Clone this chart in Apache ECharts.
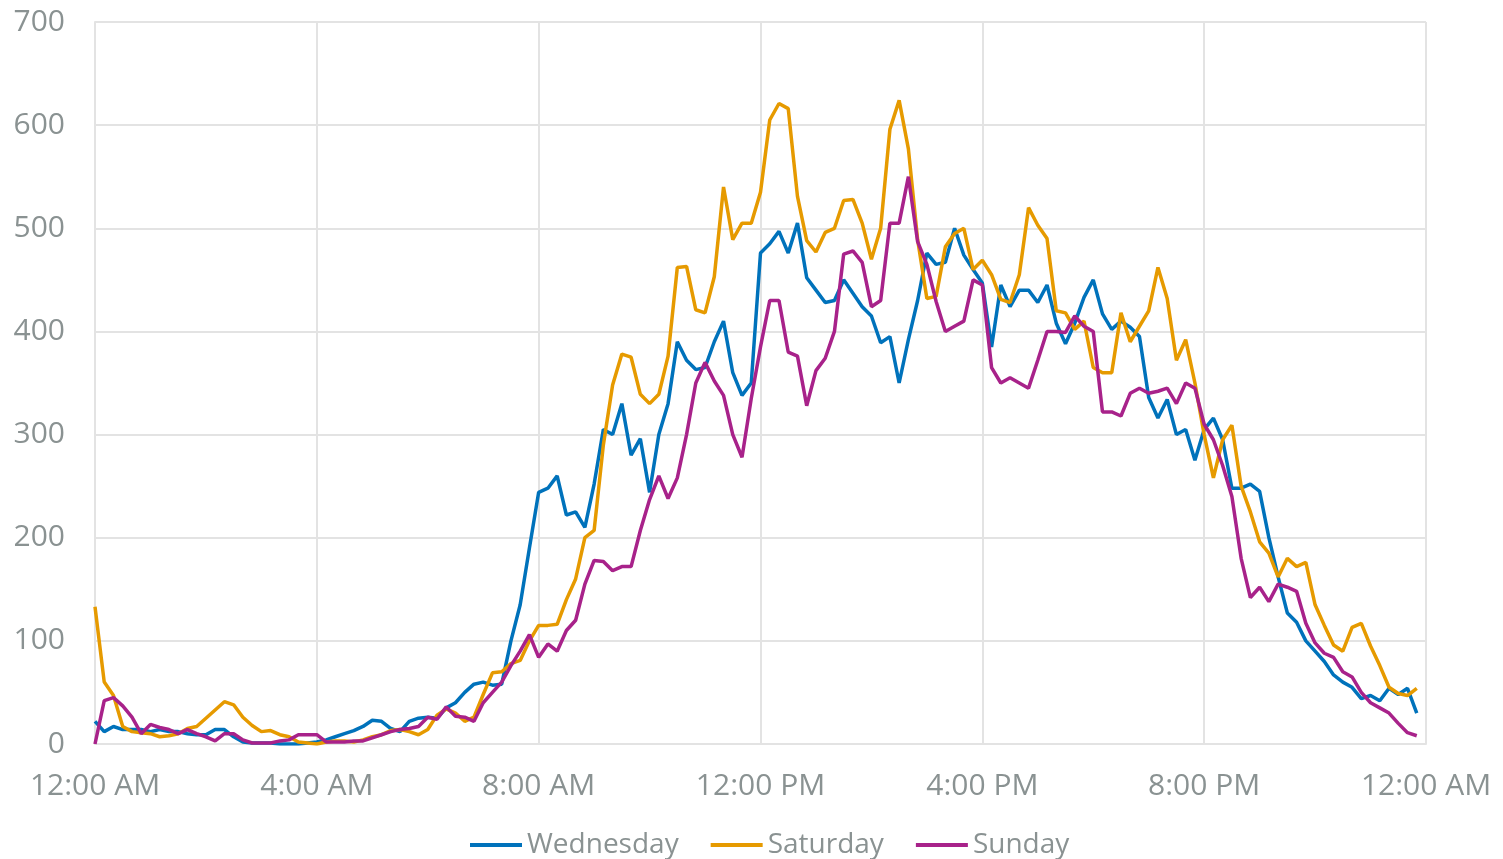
<!DOCTYPE html>
<html>
<head>
<meta charset="utf-8">
<script src="https://cdn.jsdelivr.net/npm/echarts@6/dist/echarts.min.js"></script>
<style>
html,body{margin:0;padding:0;background:#fff;}
#chart{width:1503px;height:859px;}
</style>
</head>
<body>
<div id="chart"></div>
<script>
// Sample step: 10 minutes, starting at 12:00 AM
const stepMinutes = 10;
const seriesNames = ['Wednesday', 'Saturday', 'Sunday'];
const xTickLabels = ['12:00 AM', '4:00 AM', '8:00 AM', '12:00 PM', '4:00 PM', '8:00 PM', '12:00 AM'];

const wednesday = [
  22, 12, 17, 14, 14, 14, 12, 14, 12, 12, 10, 9,
  9, 14, 14, 7, 2, 1, 1, 1, 0, 0, 0, 1,
  2, 4, 7, 10, 13, 17, 23, 22, 15, 12, 22, 25,
  26, 25, 35, 40, 50, 58, 60, 57, 58, 100, 135, 190,
  244, 248, 260, 222, 225, 210, 252, 305, 300, 330, 280, 296,
  244, 300, 330, 390, 372, 363, 365, 390, 410, 360, 338, 350,
  476, 485, 497, 476, 505, 452, 440, 428, 430, 450, 437, 424,
  415, 389, 395, 350, 392, 430, 476, 465, 467, 500, 474, 460,
  447, 385, 445, 424, 440, 440, 428, 445, 408, 388, 408, 433,
  450, 417, 402, 410, 404, 395, 336, 316, 334, 300, 305, 275,
  305, 316, 295, 248, 248, 252, 245, 200, 162, 127, 118, 100,
  90, 80, 67, 60, 55, 44, 47, 42, 54, 48, 54, 30
];

const saturday = [
  133, 60, 47, 17, 12, 11, 10, 7, 8, 10, 15, 17,
  25, 33, 41, 38, 26, 18, 12, 13, 9, 7, 2, 1,
  0, 2, 3, 3, 2, 4, 7, 9, 13, 14, 12, 9,
  14, 28, 34, 30, 22, 26, 48, 69, 70, 78, 81, 100,
  115, 115, 116, 140, 160, 200, 207, 290, 348, 378, 375, 339,
  330, 339, 376, 462, 463, 421, 418, 453, 540, 489, 505, 505,
  535, 605, 621, 616, 531, 488, 477, 496, 500, 527, 528, 505,
  470, 500, 596, 624, 577, 489, 432, 434, 482, 495, 500, 460,
  469, 455, 431, 428, 455, 520, 503, 490, 420, 418, 402, 410,
  365, 360, 360, 418, 390, 405, 420, 462, 432, 372, 392, 350,
  300, 258, 295, 309, 250, 225, 196, 185, 162, 180, 172, 176,
  135, 115, 96, 90, 113, 117, 95, 76, 55, 49, 47, 54
];

const sunday = [
  0, 42, 45, 37, 26, 10, 19, 16, 14, 10, 14, 10,
  7, 3, 10, 10, 4, 1, 1, 1, 3, 4, 9, 9,
  9, 2, 2, 2, 3, 3, 6, 9, 12, 14, 15, 17,
  26, 24, 36, 27, 26, 22, 40, 50, 60, 76, 90, 106,
  84, 97, 90, 110, 120, 155, 178, 177, 168, 172, 172, 207,
  237, 260, 238, 258, 300, 350, 370, 352, 338, 300, 278, 335,
  385, 430, 430, 380, 376, 328, 362, 374, 400, 475, 478, 467,
  424, 430, 505, 505, 550, 487, 465, 429, 400, 405, 410, 450,
  445, 365, 350, 355, 350, 345, 372, 400, 400, 399, 415, 405,
  400, 322, 322, 318, 340, 345, 340, 342, 345, 330, 350, 345,
  310, 295, 270, 240, 180, 142, 152, 138, 155, 152, 148, 117,
  98, 88, 84, 70, 65, 50, 40, 35, 30, 20, 11, 8
];

const seriesValues = [wednesday, saturday, sunday];
const seriesColors = ['#0072BB', '#E69A00', '#A8228A'];

function toPairs(values) {
  return values.map((v, i) => [i * stepMinutes, v]);
}

const textColor = '#8A9292';
const gridColor = '#E3E3E3';
const fontFamily = '"Open Sans", "Noto Sans", sans-serif';

const chart = echarts.init(document.getElementById('chart'));
chart.setOption({
  animation: false,
  backgroundColor: '#ffffff',
  grid: { left: 95, right: 77, top: 22, bottom: 115, containLabel: false },
  legend: {
    data: seriesNames,
    top: 826,
    left: 465,
    icon: 'rect',
    itemWidth: 52,
    itemHeight: 4,
    itemGap: 32,
    textStyle: { color: textColor, fontSize: 28, fontFamily: fontFamily }
  },
  xAxis: {
    type: 'value',
    min: 0,
    max: 1440,
    interval: 240,
    axisLine: { show: true, lineStyle: { color: gridColor, width: 2 } },
    axisTick: { show: false },
    splitLine: { show: true, lineStyle: { color: gridColor, width: 2 } },
    axisLabel: {
      color: textColor,
      fontSize: 30,
      fontFamily: fontFamily,
      margin: 27,
      formatter: function (v) { return xTickLabels[Math.round(v / 240)]; }
    }
  },
  yAxis: {
    type: 'value',
    min: 0,
    max: 700,
    interval: 100,
    axisLine: { show: true, lineStyle: { color: gridColor, width: 2 } },
    axisTick: { show: false },
    splitLine: { show: true, lineStyle: { color: gridColor, width: 2 } },
    axisLabel: { color: textColor, fontSize: 30, fontFamily: fontFamily, margin: 30 }
  },
  series: seriesNames.map((name, k) => ({
    name: name,
    type: 'line',
    data: toPairs(seriesValues[k]),
    showSymbol: false,
    symbol: 'none',
    lineStyle: { width: 3.5, color: seriesColors[k] },
    itemStyle: { color: seriesColors[k] }
  }))
});
</script>
</body>
</html>
